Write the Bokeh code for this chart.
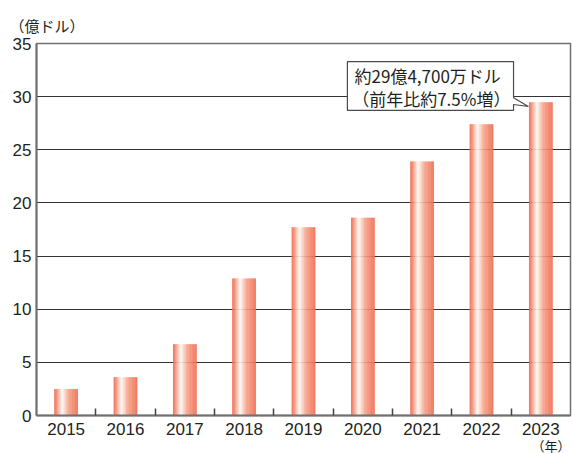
import numpy as np
from bokeh.plotting import figure
from bokeh.models import ColumnDataSource, FixedTicker, Range1d, Title
from bokeh.core.properties import value
from bokeh.embed import file_html
from bokeh.resources import INLINE

# Annual figures (100 million USD)
years = ["2015", "2016", "2017", "2018", "2019", "2020", "2021", "2022", "2023"]
revenue = [2.5, 3.6, 6.7, 12.9, 17.7, 18.6, 23.9, 27.4, 29.47]
y_ticks = [0, 5, 10, 15, 20, 25, 30, 35]
unit_label = "（億ドル）"
year_label = "（年）"
callout_lines = ["約29億4,700万ドル", "（前年比約7.5%増）"]

NUM_FONT = "Liberation Sans"
JP_FONT = "Noto Sans CJK JP"
TEXT_COLOR = "#231f20"
FRAME_COLOR = "#707070"
GRID_COLOR = "#333333"

BAR_WIDTH = 0.4
STRIPS = 40
# horizontal gradient of each bar: deep orange -> near white -> salmon -> orange
stops = [
    (0.0, (238, 98, 70)),
    (0.12, (244, 145, 120)),
    (0.33, (255, 250, 246)),
    (0.6, (246, 162, 136)),
    (1.0, (239, 108, 80)),
]


def grad_color(t):
    for (t0, c0), (t1, c1) in zip(stops[:-1], stops[1:]):
        if t0 <= t <= t1:
            f = (t - t0) / (t1 - t0)
            c = [round(a + (b - a) * f) for a, b in zip(c0, c1)]
            return "#%02x%02x%02x" % tuple(c)
    return "#%02x%02x%02x" % stops[-1][1]


xs = list(range(len(years)))
left, right, top, bottom, color = [], [], [], [], []
step = BAR_WIDTH / STRIPS
for x, v in zip(xs, revenue):
    x0 = x - BAR_WIDTH / 2
    for k in range(STRIPS):
        l = x0 + k * step
        r = min(l + step * 1.4, x0 + BAR_WIDTH)
        left.append(l)
        right.append(r)
        top.append(v)
        bottom.append(0)
        color.append(grad_color((k + 0.5) / STRIPS))

bars = ColumnDataSource(dict(left=left, right=right, top=top, bottom=bottom, color=color))

p = figure(
    width=572, height=453,
    x_range=Range1d(-0.5, len(years) - 0.5),
    y_range=Range1d(0, 35),
    output_backend="svg", toolbar_location=None,
    min_border_left=36, min_border_right=2, min_border_top=43, min_border_bottom=38,
)
p.background_fill_color = "white"
p.border_fill_color = "white"
p.outline_line_color = FRAME_COLOR
p.outline_line_width = 1.5

# unit caption above the value axis
p.title.text = unit_label
p.title.align = "left"
p.title.offset = -27
p.title.standoff = 15
p.title.text_font = JP_FONT
p.title.text_font_size = "15px"
p.title.text_font_style = "normal"
p.title.text_color = TEXT_COLOR

p.quad(left="left", right="right", top="top", bottom="bottom", source=bars,
       fill_color="color", line_color=None)

# y axis
p.yaxis.ticker = FixedTicker(ticks=y_ticks)
p.yaxis.major_tick_out = 0
p.yaxis.major_tick_in = 0
p.yaxis.minor_tick_out = 0
p.yaxis.minor_tick_in = 0
p.yaxis.axis_line_color = FRAME_COLOR
p.yaxis.axis_line_width = 2
p.yaxis.major_label_text_font = NUM_FONT
p.yaxis.major_label_text_font_size = "17px"
p.yaxis.major_label_text_color = TEXT_COLOR
p.yaxis.major_label_standoff = 5

p.ygrid.ticker = FixedTicker(ticks=y_ticks)
p.ygrid.grid_line_color = GRID_COLOR
p.ygrid.grid_line_width = 1
p.xgrid.grid_line_color = None

# x axis: labels at year centres, small inward ticks between years
p.xaxis.ticker = FixedTicker(ticks=xs, minor_ticks=[x + 0.5 for x in xs[:-1]])
p.xaxis.major_label_overrides = {x: y for x, y in zip(xs, years)}
p.xaxis.major_tick_out = 0
p.xaxis.major_tick_in = 0
p.xaxis.minor_tick_out = 0
p.xaxis.minor_tick_in = 7
p.xaxis.minor_tick_line_color = "#444444"
p.xaxis.minor_tick_line_width = 1.5
p.xaxis.axis_line_color = FRAME_COLOR
p.xaxis.axis_line_width = 2
p.xaxis.major_label_text_font = NUM_FONT
p.xaxis.major_label_text_font_size = "17px"
p.xaxis.major_label_text_color = TEXT_COLOR
p.xaxis.major_label_standoff = 7

# year caption under the last category
p.add_layout(Title(text=year_label, align="right", offset=0, standoff=-7,
                   text_line_height=0.7,
                   text_font=JP_FONT, text_font_size="13px", text_font_style="normal",
                   text_color=TEXT_COLOR), "below")

# callout box with pointer towards the latest bar
last_x, last_v = xs[-1], revenue[-1]
box_l, box_r, box_t, box_b = 4.74, 7.54, 33.3, 28.7
tip_x, tip_y = last_x - BAR_WIDTH / 2 - 0.01, last_v - 0.4
notch_top, notch_bot = 29.9, 29.26
p.patch(
    [box_l, box_r, box_r, tip_x, box_r, box_r, box_l],
    [box_t, box_t, notch_top, tip_y, notch_bot, box_b, box_b],
    fill_color="white", line_color="#4a4a4a", line_width=1.2,
)
p.text(x=[box_l + 0.12, box_l + 0.08], y=[32.0, 29.85], text=callout_lines,
       text_font=value(JP_FONT), text_font_size="17px", text_color=TEXT_COLOR,
       text_baseline="middle", text_align="left")

open("out.html", "w").write(file_html(p, INLINE))
